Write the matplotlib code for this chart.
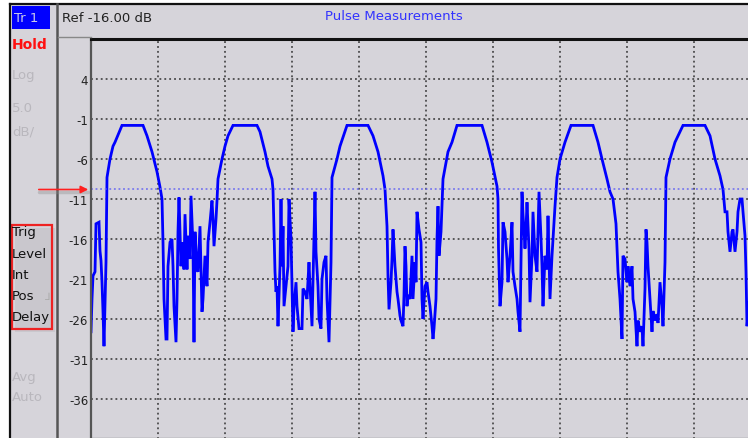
import matplotlib
matplotlib.use("Agg")
import matplotlib.pyplot as plt
from matplotlib.patches import Rectangle

# Pulse trace: time (us) and level (dB)
trace_t = [
    0.0, 0.1, 0.2, 0.4, 0.5, 0.8, 0.9, 1.0, 1.1, 1.2, 1.3, 1.5, 1.6, 1.9, 2.2, 2.4, 3.1, 5.2, 5.6, 6.1, 6.6, 6.9, 7.1,
    7.2, 7.3, 7.5, 7.6, 7.7, 7.9, 8.1, 8.2, 8.3, 8.5, 8.6, 8.7, 8.8, 9.0, 9.1, 9.3, 9.4, 9.6, 9.7, 9.9, 10.0, 10.2,
    10.3, 10.4, 10.6, 10.7, 10.9, 11.1, 11.2, 11.4, 11.6, 11.7, 11.9, 12.1, 12.2, 12.3, 12.5, 12.6, 12.7,
    13.1, 13.4, 13.7, 14.2, 16.6, 16.9, 17.4, 17.7, 18.1, 18.2,
    18.3, 18.4, 18.5, 18.6, 18.7, 18.9, 19.0, 19.1, 19.2, 19.3, 19.5, 19.7, 19.8, 20.0, 20.1, 20.2, 20.3, 20.5,
    20.6, 20.8, 21.1, 21.2, 21.4, 21.6, 21.8, 21.9, 22.1, 22.2, 22.4, 22.5, 22.7, 22.8, 23.0, 23.1, 23.3, 23.5,
    23.6, 23.8, 24.0, 24.1,
    24.6, 24.9, 25.6, 27.7, 28.2, 28.7, 29.2, 29.4, 29.5, 29.6,
    29.7, 29.8, 30.0, 30.1, 30.2, 30.4, 30.6, 30.7, 30.9, 31.0, 31.2, 31.3, 31.4, 31.5, 31.6, 31.7, 31.9, 32.1,
    32.2, 32.4, 32.5, 32.6, 32.8, 33.0, 33.1, 33.2, 33.4, 33.6, 33.7, 33.9, 34.1, 34.2, 34.3, 34.5, 34.6, 34.7,
    34.8, 35.0, 35.1, 35.2,
    35.7, 36.1, 36.6, 39.1, 39.6, 40.1, 40.6, 40.7,
    40.75, 40.9, 41.1, 41.2, 41.4, 41.6, 41.7, 41.9, 42.1, 42.2, 42.4, 42.6, 42.7, 42.9, 43.0, 43.1, 43.2, 43.4,
    43.5, 43.6, 43.8, 43.9, 44.1, 44.2, 44.4, 44.6, 44.8, 45.0, 45.1, 45.2, 45.4, 45.6, 45.7, 45.9, 46.1, 46.2,
    46.4, 46.6,
    46.9, 47.4, 48.0, 50.2, 50.7, 51.1, 51.6, 51.9, 52.2, 52.5,
    52.7, 52.9, 53.1, 53.2, 53.4, 53.6, 53.7, 53.9, 54.1, 54.2, 54.4, 54.6, 54.7, 54.9, 55.1, 55.2, 55.4, 55.5,
    55.6, 55.7, 55.9, 56.1, 56.2, 56.4, 56.6, 56.7, 56.9, 57.1, 57.2, 57.4, 57.5,
    57.9, 58.4, 59.2, 61.4, 61.9, 62.4, 62.9, 63.2, 63.4,
    63.6, 63.7, 63.9, 64.1, 64.2, 64.4, 64.6, 64.7, 64.9, 65.1, 65.2, 65.4, 65.5, 65.6, 65.8, 66.1, 66.4,
]
trace_db = [
    -27.6, -23.5, -20.6, -20.1, -14.1, -13.9, -17.5, -18.7, -21.4, -25.1, -29.4, -18.9, -8.3, -6.0, -4.4, -3.9,
    -1.8, -1.8, -3.1, -5.1, -7.6, -9.5, -11.0,
    -16.4, -23.5, -28.5, -28.5, -19.4, -16.4, -16.0, -19.4, -24.4, -28.9, -23.5, -15.1, -10.8, -19.4, -16.4,
    -19.8, -12.9, -19.8, -15.6, -18.5, -10.6, -16.9, -28.9, -15.1, -19.8, -20.1, -14.4, -25.1, -23.5, -18.1,
    -21.9, -16.4, -13.9, -11.2, -13.5, -16.9, -13.5, -11.2, -8.5,
    -6.0, -4.4, -3.1, -1.8, -1.8, -2.6, -5.1, -6.9, -8.5, -9.8,
    -15.1, -20.1, -22.6, -21.9, -26.9, -19.4, -11.0, -19.4, -14.4, -24.4, -21.9, -19.4, -11.0, -16.0, -21.9,
    -27.6, -24.4, -21.4, -24.4, -27.2, -27.2, -22.2, -22.6, -23.5, -18.9, -21.9, -26.9, -21.4, -10.1, -17.6,
    -21.9, -26.0, -27.2, -21.0, -18.9, -18.1, -23.5, -28.9, -18.9, -8.3,
    -6.0, -4.4, -1.8, -1.8, -3.1, -5.1, -8.1, -9.8, -12.2, -14.4,
    -20.6, -24.8, -21.4, -18.5, -14.8, -19.4, -22.6, -23.5, -25.6, -26.2, -26.9, -23.0, -16.9, -19.4, -24.4,
    -23.0, -23.5, -18.1, -23.5, -18.9, -21.4, -12.6, -14.8, -16.4, -23.5, -26.0, -21.9, -21.4, -22.6, -24.4,
    -26.9, -28.5, -27.2, -23.5, -16.0, -11.9, -18.1, -15.1, -11.9, -8.5,
    -5.1, -3.9, -1.8, -1.8, -3.9, -6.4, -9.4, -11.0,
    -17.2, -24.4, -21.4, -13.9, -15.1, -18.5, -21.4, -18.1, -13.9, -20.1, -21.9, -23.5, -25.1, -27.6, -18.9,
    -10.1, -12.9, -17.2, -14.8, -11.4, -17.2, -23.9, -18.1, -12.6, -18.1, -20.1, -10.1, -15.9, -19.4, -24.4,
    -18.1, -19.8, -13.1, -23.5, -18.1, -16.0, -11.9, -8.3,
    -6.0, -3.9, -1.8, -1.8, -3.9, -6.0, -8.5, -10.1, -11.0, -14.1,
    -20.1, -23.5, -28.5, -18.1, -18.5, -21.4, -19.4, -21.9, -19.4, -23.5, -25.1, -29.4, -26.2, -27.6, -26.9,
    -29.4, -22.2, -14.8, -16.4, -19.4, -23.5, -27.6, -25.0, -26.2, -25.4, -26.5, -21.4, -24.4, -26.9, -18.9, -8.3,
    -6.0, -3.9, -1.8, -1.8, -3.1, -6.0, -8.1, -9.8, -12.6,
    -12.6, -15.1, -17.6, -15.1, -14.8, -17.6, -15.1, -12.6, -11.0, -11.0, -12.6, -15.6, -20.1, -26.9, -24.0,
    -19.0, -22.0,
]

y_ticks = [4, -1, -6, -11, -16, -21, -26, -31, -36]
trig_level = -9.75
side_keys = ["Trig", "Level", "Int", "Pos", "Delay"]
side_faded = [("Log", 75), ("5.0", 109), ("dB/", 132), ("Avg", 378), ("Auto", 398)]

bg = "#d6d4da"
W, H = 748, 439
fig = plt.figure(figsize=(W / 100, H / 100), dpi=100, facecolor=bg)
plt.rcParams["font.family"] = "DejaVu Sans"

# measurement grid: 10 divisions x 10 divisions, right/bottom run off the screen
ax = fig.add_axes([91 / W, (H - 440) / H, 670 / W, 400 / H], facecolor=bg)
ax.set_xlim(0, 67)
ax.set_ylim(-41, 9)
ax.plot(trace_t, trace_db, color="#0000ff", lw=2.0, solid_joinstyle="miter")
ax.axhline(trig_level, color="#6a6af0", lw=1.1, ls=(0, (1.2, 1.8)))
ax.set_yticks(y_ticks)
ax.set_yticklabels([str(v) for v in y_ticks])
ax.set_xticks([6.7 * i for i in range(1, 10)])
ax.set_xticklabels([])
ax.grid(True, color="#333333", lw=1.1, ls=(0, (1.2, 2.0)))
ax.tick_params(axis="both", length=0, pad=2)
ax.tick_params(axis="y", labelsize=8.5, labelcolor="#222222")
ax.spines["right"].set_visible(False)
ax.spines["left"].set_color("#555555")
ax.spines["left"].set_linewidth(1.6)
ax.spines["bottom"].set_color("#555555")
ax.spines["bottom"].set_linewidth(1.6)
ax.spines["top"].set_color("#111111")
ax.spines["top"].set_linewidth(2.2)

# screen furniture drawn on top in pixel units
deco = fig.add_axes([0, 0, 1, 1], facecolor="none")
deco.set_xlim(0, W)
deco.set_ylim(H, 0)
deco.axis("off")

deco.add_patch(Rectangle((0, 0), W, 5, color="white", lw=0))
deco.add_patch(Rectangle((0, 0), 10, H, color="white", lw=0))
deco.plot([10, W], [5, 5], color="#111111", lw=1.6)
deco.plot([10.5, 10.5], [5, H], color="#111111", lw=1.6)
deco.plot([57.5, 57.5], [5, H], color="#555555", lw=1.8)
deco.plot([58, 91], [37.5, 37.5], color="#888888", lw=1.0)

# trace tag and state
deco.add_patch(Rectangle((12, 7), 38, 23, color="#0000ff", lw=0))
deco.text(14, 19, "Tr 1", color="#c8c8e8", fontsize=9.5, va="center")
deco.text(12, 45, "Hold", color="#ff1010", fontsize=10, fontweight="bold", va="center")
deco.text(62, 18, "Ref -16.00 dB", color="#222222", fontsize=9.5, va="center")
deco.text(394, 17, "Pulse Measurements", color="#3333ff", fontsize=9.5, va="center", ha="center")

for label, y in side_faded:
    deco.text(12, y, label, color="#b9b7bd", fontsize=9.5, va="center")

# trigger softkey block
deco.add_patch(Rectangle((15, 229), 40, 104, color="#000000", alpha=0.06, lw=0))
for i, label in enumerate(side_keys):
    deco.text(12, 233 + i * 21.2, label, color="#111111", fontsize=9.5, va="center")
deco.text(45, 297, "\u2143", color="#aaaaaa", fontsize=7, va="center")
deco.add_patch(Rectangle((12.5, 226), 39.5, 104, fill=False, ec="#ee2222", lw=1.6))

# trigger level marker
deco.plot([39, 88], [193, 193], color="#888888", lw=2.5, alpha=0.35, solid_capstyle="round")
deco.annotate("", xy=(91, 190.5), xytext=(36, 190.5),
              arrowprops=dict(arrowstyle="-|>", color="#ff2020", lw=1.2, mutation_scale=11))

fig.savefig("out.png", dpi=100, facecolor=bg)
